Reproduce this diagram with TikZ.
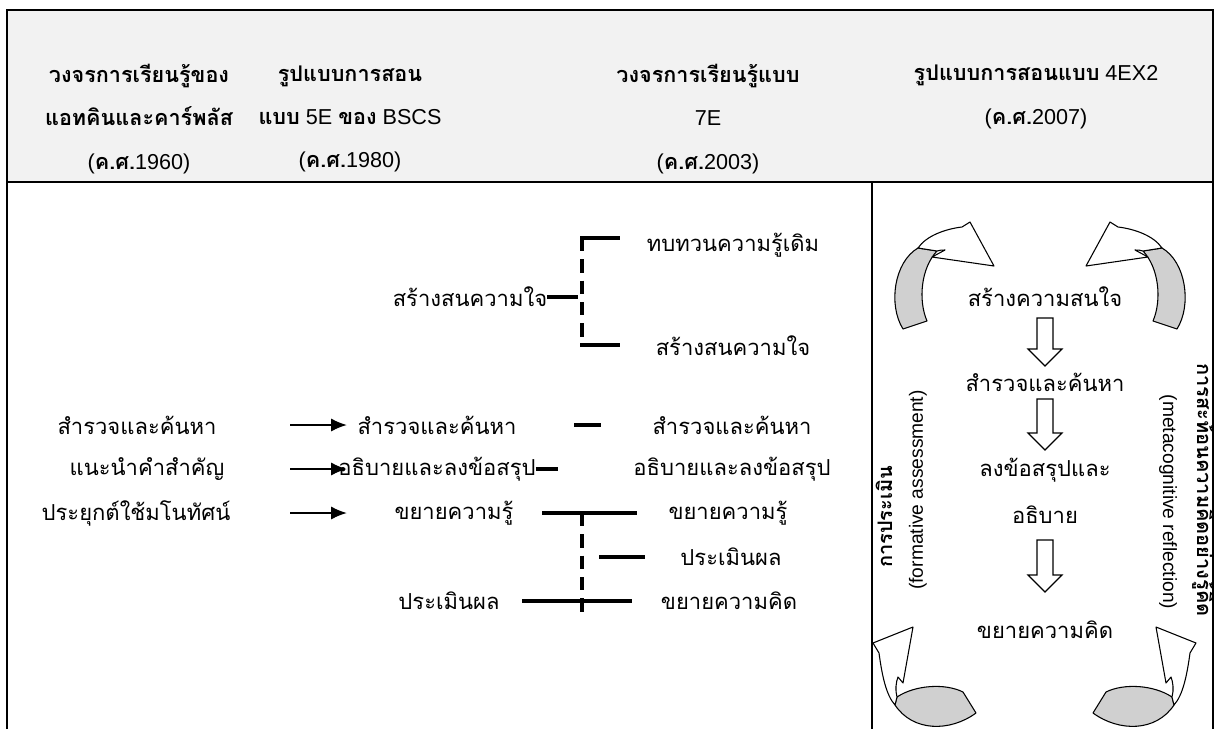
\documentclass[tikz,border=0pt]{standalone}
\usepackage{fontspec}
\usetikzlibrary{arrows.meta,calc}
\setmainfont{Liberation Sans}
\newfontfamily\thaifont[Script=Thai]{Loma}
\newcommand{\T}[1]{{\thaifont #1}}
\newcommand{\TB}[1]{{\thaifont\bfseries #1}}
\definecolor{hdrgray}{HTML}{F2F2F2}
\definecolor{bandgray}{HTML}{D0D0D0}
\begin{document}
\begin{tikzpicture}[x=0.75pt,y=-0.75pt,
  frame/.style={line width=1.6pt,black},
  hdrtext/.style={font=\fontsize{16.2}{32.5}\selectfont,align=center,inner sep=0pt},
  bodytext/.style={font=\fontsize{16.5}{20}\selectfont,inner sep=0pt},
  vtext/.style={font=\fontsize{14.4}{18}\selectfont,inner sep=0pt},
  vbold/.style={font=\fontsize{15}{18}\selectfont\bfseries,inner sep=0pt},
  arr/.style={line width=1.5pt,-{Latex[length=12pt,width=10pt]}},
  conn/.style={line width=2.6pt},
  dconn/.style={line width=2.6pt,dash pattern=on 10pt off 6pt},
  curvw/.style={draw=black,fill=white,line width=0.8pt,line join=round},
  curvg/.style={draw=black,fill=bandgray,line width=0.8pt,line join=round},
  hollow/.style={draw=black,fill=white,line width=0.9pt}
]
\useasboundingbox (0,0) rectangle (1222,729);
% header band and frame
\fill[hdrgray] (7,10) rectangle (1213,182);
\draw[frame] (7,729) -- (7,10) -- (1213,10) -- (1213,729);
\draw[frame] (7,182) -- (1213,182);
\draw[frame] (872,182) -- (872,729);

% header texts
\node[hdrtext] (h1) at (139,119) {\TB{วงจรการเรียนรู้ของ}\\\TB{แอทคินและคาร์พลัส}\\(\TB{ค.ศ.}1960)};
\node[hdrtext] (h2) at (350,119) {\TB{รูปแบบการสอน}\\\TB{แบบ} 5E \TB{ของ} BSCS\\(\TB{ค.ศ.}1980)};
\node[hdrtext] (h3) at (708,119) {\TB{วงจรการเรียนรู้แบบ}\\7E\\(\TB{ค.ศ.}2003)};
\node[hdrtext] (h4) at (1036,97) {\TB{รูปแบบการสอนแบบ} 4EX2\\(\TB{ค.ศ.}2007)};

% column 1
\node[bodytext] (a1) at (137,425) {\T{สำรวจและค้นหา}};
\node[bodytext] (a2) at (147,469) {\T{แนะนำคำสำคัญ}};
\node[bodytext] (a3) at (136,513) {\T{ประยุกต์ใช้มโนทัศน์}};

% column 2
\node[bodytext] (b0) at (470,297) {\T{สร้างสนความใจ}};
\node[bodytext] (b1) at (437,425) {\T{สำรวจและค้นหา}};
\node[bodytext] (b2) at (437,469) {\T{อธิบายและลงข้อสรุป}};
\node[bodytext] (b3) at (454,513) {\T{ขยายความรู้}};
\node[bodytext] (b4) at (449,601) {\T{ประเมินผล}};

% column 3
\node[bodytext] (c0) at (733,245) {\T{ทบทวนความรู้เดิม}};
\node[bodytext] (c1) at (733,346) {\T{สร้างสนความใจ}};
\node[bodytext] (c2) at (732,425) {\T{สำรวจและค้นหา}};
\node[bodytext] (c3) at (732,469) {\T{อธิบายและลงข้อสรุป}};
\node[bodytext] (c4) at (728,513) {\T{ขยายความรู้}};
\node[bodytext] (c5) at (731,557) {\T{ประเมินผล}};
\node[bodytext] (c6) at (729,601) {\T{ขยายความคิด}};

% helper coordinates
\coordinate (ax) at (290,0);
\coordinate (bx) at (347,0);
\coordinate (vx) at (582,0);
\coordinate (tb) at (582,238);
\coordinate (bb) at (582,345);
\coordinate (lt) at (582,513);
\coordinate (lb) at (582,612);

% arrows column 1 -> column 2
\draw[arr] (a1.east -| ax) -- (b1.west -| bx);
\draw[arr] (a2.east -| ax) -- (b2.west -| bx);
\draw[arr] (a3.east -| ax) -- (b3.west -| bx);

% upper bracket
\draw[dconn] (tb) -- (bb);
\draw[conn] ($(tb)+(-1.7,0)$) -- ($(tb)+(38,0)$);
\draw[conn] ($(bb)+(-1.7,0)$) -- ($(bb)+(38,0)$);
\draw[conn] (b0.east) -- ($(vx|-b0.east)+(-4,0)$);

% middle lines
\draw[conn] ($(vx|-c2.west)+(-8,0)$) -- ($(vx|-c2.west)+(19,0)$);
\draw[conn] (b2.east) -- ([xshift=17pt]b2.east);

% lower bracket
\draw[dconn] (lt) -- (lb);
\draw[conn] ($(vx|-c4.west)+(-40,0)$) -- ($(vx|-c4.west)+(55,0)$);
\draw[conn] ($(vx|-c5.west)+(17,0)$) -- ($(vx|-c5.west)+(63,0)$);
\draw[conn] ($(vx|-c6.west)+(-60,0)$) -- ($(vx|-c6.west)+(50,0)$);

% right panel texts
\node[bodytext] (r1) at (1045,297) {\T{สร้างความสนใจ}};
\node[bodytext] (r2) at (1045,382) {\T{สำรวจและค้นหา}};
\node[bodytext] (r3) at (1045,470) {\T{ลงข้อสรุปและ}};
\node[bodytext] (r4) at (1045,515) {\T{อธิบาย}};
\node[bodytext] (r5) at (1045,630) {\T{ขยายความคิด}};

% hollow down arrows
\newcommand{\hollowdown}[2]{%
  \draw[hollow] ($(#1)+(-8,0)$) -- ($(#1)+(8,0)$) -- ($(#2)+(8,-17)$) -- ($(#2)+(17,-17)$) -- (#2) -- ($(#2)+(-17,-17)$) -- ($(#2)+(-8,-17)$) -- cycle;}
\coordinate (d1t) at (1045,318); \coordinate (d1b) at (1045,366);
\coordinate (d2t) at (1045,399); \coordinate (d2b) at (1045,450);
\coordinate (d3t) at (1045,540); \coordinate (d3b) at (1045,592);
\hollowdown{d1t}{d1b}
\hollowdown{d2t}{d2b}
\hollowdown{d3t}{d3b}

% vertical labels
\node[vbold,rotate=90] (vl1) at (884,517) {\T{การประเมิน}};
\node[vtext,rotate=90] (vl2) at (918,490) {(formative assessment)};
\node[vtext,rotate=-90] (vr1) at (1168,502) {(metacognitive reflection)};
\node[vbold,rotate=-90] (vr2) at (1203,490) {\T{การสะท้อนความคิดอย่างรู้คิด}};

% curved arrows
\newcommand{\topcurve}{%
  \draw[curvg] (918,248) .. controls (894,262) and (888,305) .. (903,329) -- (927,321) .. controls (918,300) and (921,268) .. (937,251) -- cycle;
  \draw[curvw] (918,248) .. controls (926,236) and (945,229) .. (962,227) -- (970,222) -- (994,266) -- (932,257) -- (945,250) .. controls (942,250) and (940,250) .. (937,251) -- cycle;}
\newcommand{\botcurve}{%
  \draw[curvg] (897,697) .. controls (915,685) and (945,683) .. (963,692) -- (976,713) .. controls (950,732) and (913,732) .. (895,705) -- cycle;
  \draw[curvw] (913,627) -- (873,643) -- (879,653) .. controls (882,675) and (886,695) .. (895,705) -- (897,697) .. controls (895,690) and (896,682) .. (898,677) -- (903,683) -- cycle;}
\topcurve
\begin{scope}[xshift=2080*0.75pt,xscale=-1]\topcurve\end{scope}
\botcurve
\begin{scope}[xshift=2069*0.75pt,xscale=-1]\botcurve\end{scope}
\end{tikzpicture}
\end{document}
